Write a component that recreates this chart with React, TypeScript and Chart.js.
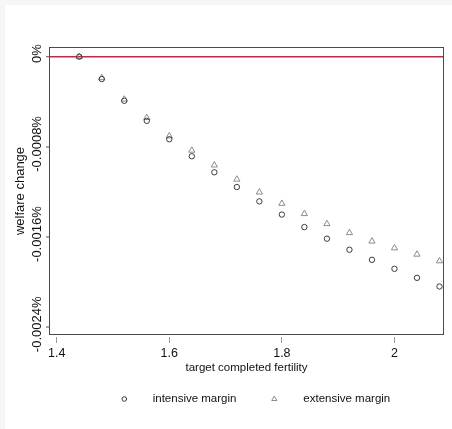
import React, { useEffect, useRef } from 'react';
import { Chart, registerables } from 'chart.js';

Chart.register(...registerables);

// ---- data ----
const fertility = [1.44, 1.48, 1.52, 1.56, 1.6, 1.64, 1.68, 1.72, 1.76, 1.8, 1.84, 1.88, 1.92, 1.96, 2.0, 2.04, 2.08];
const intensiveMargin = [0, -0.000198, -0.000391, -0.000569, -0.000732, -0.000883, -0.001025, -0.001156, -0.001283, -0.0014, -0.001511, -0.001614, -0.001712, -0.001801, -0.001881, -0.001961, -0.002038];
const extensiveMargin = [0, -0.000188, -0.000378, -0.000541, -0.000704, -0.000831, -0.000962, -0.001088, -0.001202, -0.001302, -0.001393, -0.001482, -0.001562, -0.001637, -0.001697, -0.001753, -0.001812];

const xTicks = [1.4, 1.6, 1.8, 2];
const xTickLabels = ['1.4', '1.6', '1.8', '2'];
const yTicks = [-0.0024, -0.0016, -0.0008, 0];
const yTickLabels = ['-0.0024%', '-0.0016%', '-0.0008%', '0%'];

const seriesNames = ['intensive margin', 'extensive margin'];
const xTitle = 'target completed fertility';
const yTitle = 'welfare change';

const FONT = "'Liberation Sans', Arial, sans-serif";
const HSIZE = 11.5;

const chromePlugin = {
  id: 'chrome',
  beforeDraw(chart: any) {
    const { ctx, width, height } = chart;
    ctx.save();
    ctx.fillStyle = '#ffffff';
    ctx.fillRect(0, 0, width, height);
    ctx.fillStyle = '#f6f6f6';
    ctx.fillRect(0, 0, width, 5);
    ctx.fillRect(0, 0, 5, height);
    ctx.restore();
  },
  afterDraw(chart: any) {
    const { ctx, chartArea: a } = chart;
    ctx.save();
    // plot frame
    ctx.strokeStyle = '#4a4a4a';
    ctx.lineWidth = 1;
    ctx.strokeRect(Math.round(a.left) + 0.5, Math.round(a.top) + 0.5, Math.round(a.right - a.left) - 1, Math.round(a.bottom - a.top) - 1);

    // rotated y tick labels
    const ys = chart.scales.y;
    ctx.fillStyle = '#111111';
    ctx.font = `13px ${FONT}`;
    ctx.textAlign = 'center';
    ctx.textBaseline = 'middle';
    ys.ticks.forEach((t: any, i: number) => {
      const py = ys.getPixelForValue(t.value);
      ctx.save();
      ctx.translate(37, py - 3);
      ctx.rotate(-Math.PI / 2);
      ctx.fillText(yTickLabels[i], 0, 0);
      ctx.restore();
    });

    // legend
    const legendY = 399;
    const markerX = [124.3, 274.3];
    const textX = [152.7, 303.3];
    chart.data.datasets.forEach((ds: any, i: number) => {
      ctx.save();
      ctx.strokeStyle = ds.borderColor;
      ctx.lineWidth = 1;
      ctx.beginPath();
      if (ds.pointStyle === 'circle') {
        ctx.arc(markerX[i], legendY, 2.3, 0, Math.PI * 2);
      } else {
        const r = 3;
        ctx.moveTo(markerX[i], legendY - r);
        ctx.lineTo(markerX[i] + r * Math.sin((2 * Math.PI) / 3), legendY + r / 2);
        ctx.lineTo(markerX[i] - r * Math.sin((2 * Math.PI) / 3), legendY + r / 2);
        ctx.closePath();
      }
      ctx.stroke();
      ctx.restore();
      ctx.fillStyle = '#111111';
      ctx.font = `${HSIZE}px ${FONT}`;
      ctx.textAlign = 'left';
      ctx.textBaseline = 'middle';
      ctx.fillText(ds.label, textX[i], legendY);
    });
    ctx.restore();
  },
};

export default function App() {
  const ref = useRef<HTMLCanvasElement | null>(null);

  useEffect(() => {
    document.body.style.margin = '0';
    const canvas = ref.current;
    if (!canvas) return;
    const chart = new Chart(canvas, {
      type: 'scatter',
      data: {
        datasets: [
          {
            label: seriesNames[0],
            data: fertility.map((x, i) => ({ x, y: intensiveMargin[i] })),
            pointStyle: 'circle',
            pointRadius: 2.7,
            borderColor: '#3c3c3c',
            backgroundColor: 'rgba(0,0,0,0)',
            borderWidth: 1,
            showLine: false,
          },
          {
            label: seriesNames[1],
            data: fertility.map((x, i) => ({ x, y: extensiveMargin[i] })),
            pointStyle: 'triangle',
            pointRadius: 3.6,
            borderColor: '#8c8c8c',
            backgroundColor: 'rgba(0,0,0,0)',
            borderWidth: 1,
            showLine: false,
          },
        ],
      },
      options: {
        responsive: false,
        devicePixelRatio: 1,
        animation: false,
        events: [],
        layout: { padding: { left: 0, top: 47, right: 8, bottom: 49 } },
        plugins: {
          legend: { display: false },
          tooltip: { enabled: false },
        },
        scales: {
          x: {
            type: 'linear',
            position: 'bottom',
            min: 1.3863,
            max: 2.088,
            afterBuildTicks: (scale: any) => {
              scale.ticks = xTicks.map((v) => ({ value: v }));
            },
            afterFit: (scale: any) => {
              scale.height = 45;
            },
            border: { display: false },
            grid: {
              display: true,
              drawOnChartArea: false,
              drawTicks: true,
              tickLength: 8,
              tickWidth: 1,
              tickColor: '#9a9a9a',
              tickBorderDash: [0, 2, 6, 30],
            },
            ticks: {
              autoSkip: false,
              maxRotation: 0,
              padding: 3,
              color: '#111111',
              font: { family: FONT, size: 12.5 },
              callback: (_v: any, i: number) => xTickLabels[i],
            },
            title: {
              display: true,
              text: xTitle,
              color: '#111111',
              font: { family: FONT, size: HSIZE },
              padding: { top: 0, bottom: 5 },
            },
          },
          y: {
            type: 'linear',
            position: 'left',
            min: -0.002468,
            max: 0.000086,
            afterBuildTicks: (scale: any) => {
              scale.ticks = yTicks.map((v) => ({ value: v }));
            },
            afterFit: (scale: any) => {
              scale.width = 49;
            },
            border: { display: false },
            grid: {
              display: true,
              drawOnChartArea: true,
              drawTicks: true,
              tickLength: 9,
              tickWidth: 1,
              tickColor: '#555555',
              tickBorderDash: [0, 6, 3, 30],
              color: (c: any) => (c.tick && c.tick.value === 0 ? '#dc1a42' : 'rgba(0,0,0,0)'),
              lineWidth: (c: any) => (c.tick && c.tick.value === 0 ? 1.5 : 0),
            },
            ticks: { display: false },
            title: {
              display: true,
              text: yTitle,
              color: '#111111',
              font: { family: FONT, size: 13 },
              padding: { top: 13, bottom: 0 },
            },
          },
        },
      },
      plugins: [chromePlugin],
    });
    return () => chart.destroy();
  }, []);

  return <canvas ref={ref} width={452} height={429} style={{ display: 'block' }} />;
}
